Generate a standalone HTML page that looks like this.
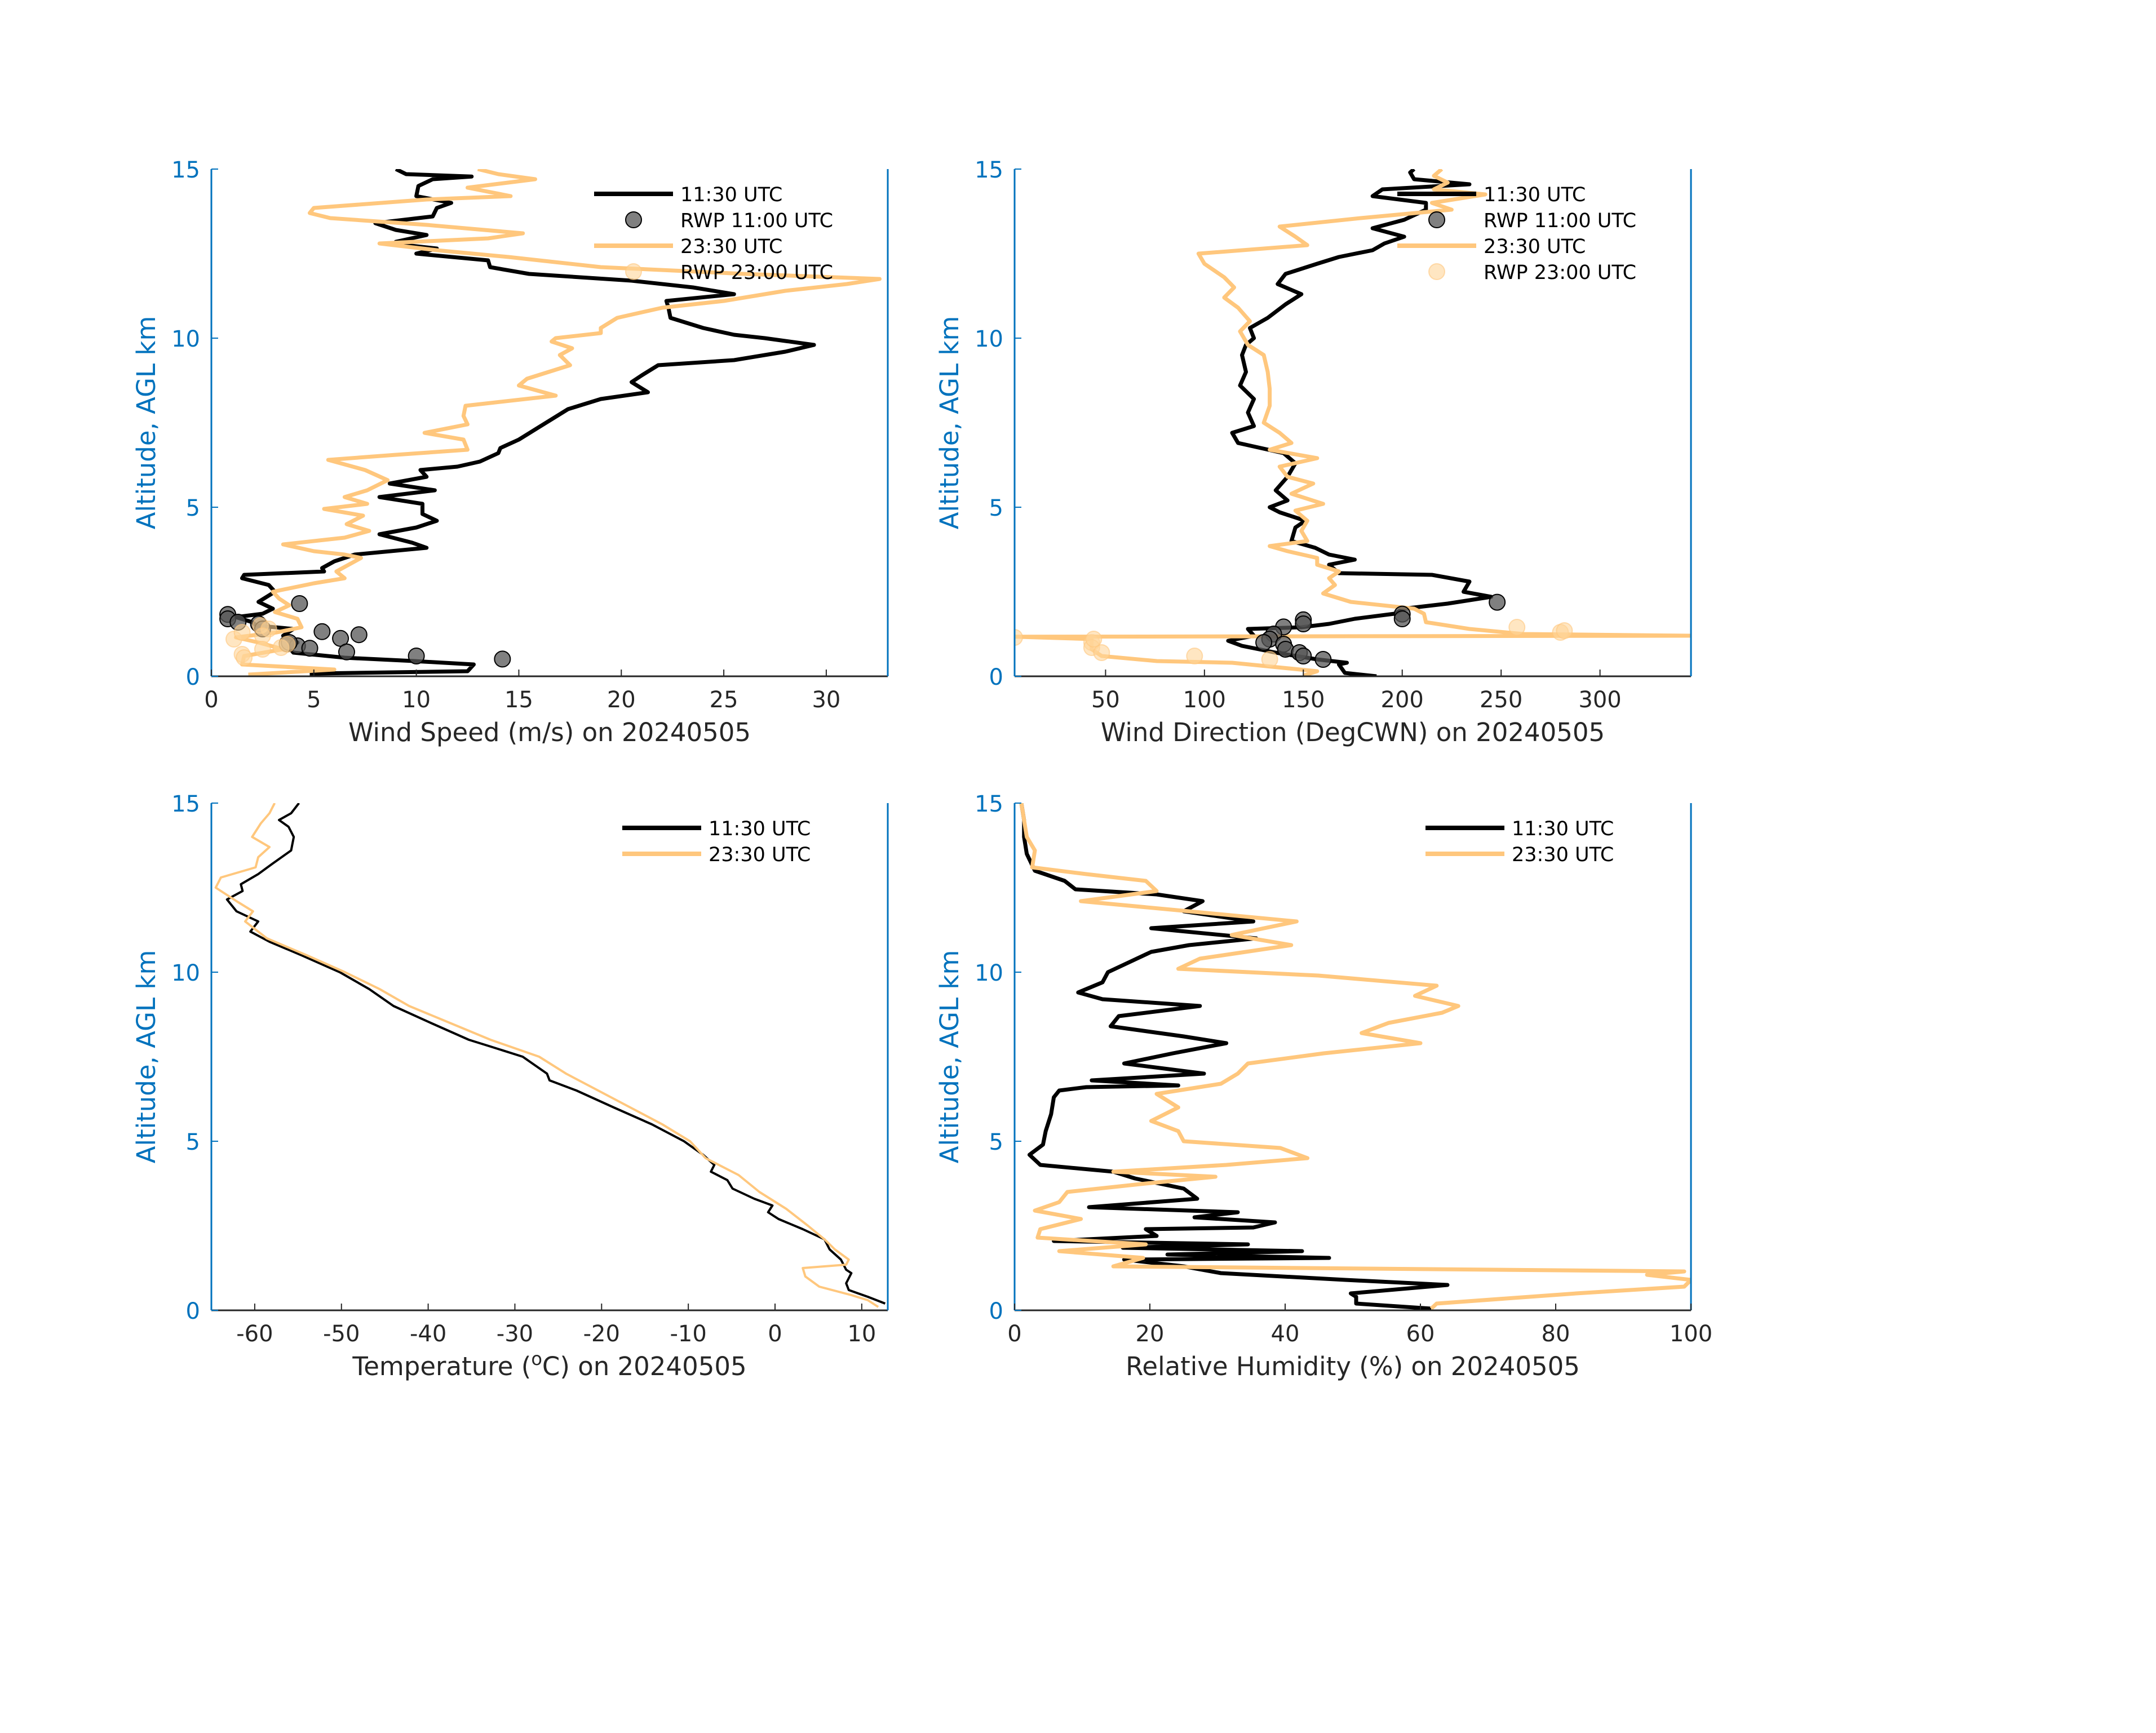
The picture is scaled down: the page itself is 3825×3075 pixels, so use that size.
<!DOCTYPE html>
<html><head><meta charset="utf-8">
<style>
html,body{margin:0;padding:0;background:#fff;}
svg{display:block;font-family:"DejaVu Sans","Liberation Sans",sans-serif;}
</style></head>
<body>
<svg id="fig" width="3825" height="3075" viewBox="0 0 3825 3075" xmlns="http://www.w3.org/2000/svg">
<rect width="3825" height="3075" fill="#fff"/>
</svg>
<script>
// ---------- Wind speed ----------
const wsAlt11 = [0.08,0.15,0.35,0.45,0.55,0.7,0.85,1.0,1.2,1.4,1.5,1.6,1.75,1.85,2.0,2.2,2.5,2.7,2.9,3.0,3.1,3.2,3.4,3.6,3.8,3.95,4.2,4.4,4.6,4.8,5.1,5.3,5.5,5.7,5.9,6.1,6.2,6.35,6.6,6.75,7.0,7.3,7.6,7.9,8.2,8.4,8.7,8.9,9.2,9.35,9.6,9.8,10.0,10.1,10.3,10.6,10.9,11.1,11.3,11.5,11.7,11.9,12.1,12.3,12.5,12.65,12.75,12.85,13.05,13.2,13.4,13.6,13.85,14.0,14.2,14.5,14.7,14.78,14.85,15.0];
const wsVal11 = [4.8,12.5,12.8,9.9,6.5,4.0,3.8,4.2,3.5,4.0,2.2,2.0,1.2,2.5,3.0,2.3,3.1,2.8,1.5,1.6,5.5,5.4,6.0,7.0,10.5,9.8,8.2,10.0,11.0,10.3,10.3,8.2,10.9,8.7,10.5,10.2,12.0,13.1,14.0,14.1,15.0,15.8,16.6,17.4,19.0,21.3,20.5,21.0,21.8,25.5,28.0,29.4,27.0,25.5,24.0,22.4,22.3,22.2,25.5,23.5,20.5,15.5,13.6,13.5,10.0,11.0,9.5,9.0,10.5,9.0,8.0,10.8,11.0,11.7,10.0,10.1,10.8,12.7,9.5,9.0];
const wsAlt23 = [0.05,0.2,0.35,0.6,0.8,1.0,1.15,1.3,1.45,1.7,1.9,2.1,2.3,2.5,2.75,2.9,3.1,3.5,3.6,3.7,3.9,4.1,4.3,4.5,4.75,4.95,5.1,5.3,5.5,5.8,6.1,6.4,6.55,6.7,7.0,7.2,7.45,7.7,8.0,8.3,8.6,8.8,9.2,9.5,9.7,9.9,10.0,10.15,10.3,10.6,10.9,11.1,11.4,11.6,11.75,11.9,12.1,12.4,12.6,12.8,12.95,13.1,13.35,13.55,13.7,13.85,14.1,14.2,14.45,14.7,14.85,15.0];
const wsVal23 = [1.8,6.0,1.5,1.6,3.5,2.3,1.2,3.2,4.4,4.2,3.1,3.8,3.3,3.0,5.0,6.5,6.1,7.3,6.5,5.0,3.5,6.5,7.7,6.6,7.4,5.5,7.6,6.5,7.6,8.6,7.5,5.7,9.0,12.5,12.3,10.4,12.5,12.3,12.4,16.8,15.0,15.4,17.5,17.0,17.6,16.6,16.8,19.0,19.0,19.8,22.0,25.0,28.0,31.0,32.6,26.0,19.0,14.5,11.0,8.2,13.5,15.2,10.5,5.8,4.8,5.0,10.5,14.6,12.5,15.8,14.0,13.0];
const wsRwp11Alt = [1.83,1.7,1.6,1.55,2.15,1.32,1.12,1.23,0.96,0.9,0.83,0.72,0.6,0.51,1.4,1.0];
const wsRwp11Val = [0.8,0.8,1.3,2.3,4.3,5.4,6.3,7.2,3.7,4.2,4.8,6.6,10.0,14.2,2.5,3.8];
const wsRwp23Alt = [1.1,1.3,1.5,1.4,1.2,0.65,0.55,0.85,0.95,0.8];
const wsRwp23Val = [1.1,1.5,2.4,2.8,2.5,1.5,1.6,3.4,3.7,2.5];
const wsTicks = [0,5,10,15,20,25,30];

// ---------- Wind direction ----------
const wdAlt11 = [0,0.1,0.35,0.4,0.5,0.7,0.9,1.05,1.2,1.4,1.45,1.55,1.7,1.85,2.0,2.15,2.35,2.5,2.8,3.0,3.05,3.3,3.45,3.6,3.8,4.0,4.4,4.6,4.85,5.0,5.2,5.5,5.9,6.3,6.6,6.9,7.2,7.4,7.8,8.2,8.6,9.0,9.5,9.8,10.0,10.3,10.6,11.0,11.3,11.6,11.9,12.2,12.4,12.6,12.8,13.0,13.25,13.5,13.8,14.0,14.2,14.4,14.55,14.7,14.9,15.0];
const wdVal11 = [187,171,168,172,157,136,119,112,125,122,149,163,176,196,201,223,245,231,234,215,168,163,176,163,156,144,146,151,138,133,142,136,142,146,140,117,114,125,122,125,118,121,119,121,125,123,132,141,149,137,141,157,168,185,191,201,185,201,212,212,185,190,234,206,204,206];
const wdAlt23 = [0.02,0.15,0.4,0.45,0.6,0.8,1.0,1.1,1.17,1.2,1.25,1.4,1.6,1.85,2.0,2.2,2.45,2.7,2.9,3.1,3.3,3.5,3.7,3.85,4.0,4.3,4.6,4.9,5.1,5.4,5.7,5.9,6.2,6.45,6.7,6.9,7.2,7.5,8.0,8.5,9.0,9.5,9.8,10.2,10.5,10.9,11.2,11.5,11.8,12.2,12.5,12.75,13.0,13.3,13.55,13.8,14.0,14.25,14.4,14.6,14.8,15.0];
const wdVal23 = [150,157,114,76,48,43,43,43,4,346,261,234,212,211,206,174,160,166,163,168,157,157,142,133,152,149,152,146,160,144,155,142,138,157,133,144,138,130,133,133,132,130,122,118,123,117,110,115,110,100,97,152,146,138,179,225,215,242,216,223,216,220];
const wdRwp11Alt = [2.19,1.84,1.7,1.67,1.55,1.46,1.25,1.1,1.0,0.95,0.8,0.7,0.6,0.5];
const wdRwp11Val = [248,200,200,150,150,140,135,133,130,140,141,148,150,160];
const wdRwp23Alt = [1.15,1.0,0.85,0.7,0.6,0.5,1.45,1.3,1.35,1.1];
const wdRwp23Val = [4,43,43,48,95,133,258,280,282,44];
const wdTicks = [50,100,150,200,250,300];

// ---------- Temperature ----------
const tAlt11 = [0.2,0.4,0.6,0.8,1.1,1.2,1.5,1.8,2.1,2.4,2.7,2.9,3.1,3.3,3.6,3.85,4.1,4.3,4.6,5.0,5.5,6.0,6.5,6.8,7.0,7.5,7.8,8.0,8.5,9.0,9.5,10.0,10.5,10.9,11.2,11.5,11.8,12.15,12.4,12.6,12.9,13.2,13.6,14.0,14.3,14.5,14.7,15.0];
const tVal11 = [12.7,10.7,8.5,8.2,8.8,8.2,7.6,6.3,5.7,3.2,0.4,-0.8,-0.3,-2.4,-4.9,-5.5,-7.4,-7.0,-8.3,-10.5,-14.2,-18.6,-22.9,-26.0,-26.3,-29.1,-32.8,-35.3,-39.7,-44.0,-46.8,-50.2,-54.6,-58.3,-60.5,-59.6,-62.1,-63.2,-61.4,-61.6,-59.6,-58.0,-55.8,-55.5,-56.1,-57.2,-55.8,-54.9];
const tAlt23 = [0.1,0.3,0.45,0.7,1.0,1.25,1.35,1.5,1.8,2.1,2.5,3.0,3.5,4.0,4.5,5.0,5.5,6.0,6.5,7.0,7.5,8.0,8.5,9.0,9.5,10.0,10.5,11.0,11.5,11.8,12.1,12.5,12.8,13.1,13.4,13.7,14.0,14.4,14.7,15.0];
const tVal23 = [11.9,10.7,8.8,5.1,3.5,3.2,8.2,8.5,6.9,5.7,3.8,1.3,-1.8,-4.2,-8.0,-9.8,-13.0,-16.7,-20.4,-24.1,-27.2,-32.8,-37.5,-42.2,-45.6,-49.6,-54.0,-58.6,-61.1,-60.2,-62.1,-64.5,-63.9,-59.9,-59.6,-58.3,-60.3,-59.3,-58.3,-57.7];
const tTicks = [-60,-50,-40,-30,-20,-10,0,10];

// ---------- Relative humidity ----------
const rhAlt11 = [0.05,0.2,0.4,0.5,0.75,0.9,1.1,1.3,1.5,1.55,1.65,1.75,1.85,1.95,2.05,2.2,2.4,2.45,2.6,2.75,2.9,3.05,3.3,3.6,3.9,4.1,4.3,4.6,4.9,5.3,5.8,6.3,6.5,6.6,6.65,6.8,7.0,7.3,7.6,7.9,8.1,8.4,8.7,9.0,9.2,9.4,9.7,10.0,10.3,10.6,10.8,11.0,11.3,11.5,11.8,12.1,12.3,12.45,12.7,13.0,13.5,14.0,14.5,15.0];
const rhVal11 = [61.6,50.5,50.5,49.7,64,48.9,30.5,25,16.2,46.5,22.6,42.5,16,34.5,5.8,21,19.4,35.3,38.5,26.6,33,11,27,25,17.8,14.6,3.8,2.2,4.2,4.6,5.4,5.8,6.6,10.6,24.2,11.4,28,16.2,23.4,31.3,25,14.2,15.4,27.4,13,9.4,13,13.8,17,20.2,25.8,35.7,20.2,35.3,25,27.8,21,9,7.4,3,1.8,1.4,1.4,1];
const rhAlt23 = [0.05,0.2,0.5,0.7,0.9,1.05,1.15,1.3,1.55,1.75,1.95,2.15,2.4,2.7,2.95,3.2,3.5,3.75,3.95,4.1,4.3,4.5,4.8,5.0,5.3,5.6,6.0,6.4,6.7,7.0,7.3,7.6,7.9,8.2,8.5,8.8,9.0,9.3,9.6,9.9,10.1,10.4,10.8,11.1,11.5,11.8,12.1,12.4,12.7,12.9,13.1,13.6,14.0,15.0];
const rhVal23 = [61.6,62.4,83,99,100,93.5,99,14.6,19,6.6,19.4,3.4,3.8,9.8,3,6.6,7.8,19.4,29.7,14.6,31.3,43.3,39.3,25,24.2,20.2,24.2,21,30.5,33,34.5,45.7,60,51.3,55.3,63.2,65.6,59.2,62.4,44.9,24.2,27.4,40.9,32.1,41.7,25.8,9.8,21,19.4,10.6,2.6,3,1.8,1];
const rhTicks = [0,20,40,60,80,100];

const yTicks = [0,5,10,15];

const NS = 'http://www.w3.org/2000/svg';
const svg = document.getElementById('fig');
const BLACK = '#000000', ORANGE = '#FFC77D', BLUE = '#0072BD', DARK = '#262626';

function mk(tag, attrs, parent) {
  const e = document.createElementNS(NS, tag);
  for (const k in attrs) e.setAttribute(k, attrs[k]);
  (parent || svg).appendChild(e);
  return e;
}

function panel(p) {
  const g = mk('g', {});
  
  
  const sx = v => p.x0 + (v - p.xmin) / (p.xmax - p.xmin) * p.w;
  const sy = a => p.y0 + p.h - a / 15 * p.h;
  const clipId = 'clip-' + p.name;
  const cp = mk('clipPath', {id: clipId}, g);
  mk('rect', {x: p.x0, y: p.y0, width: p.w, height: p.h}, cp);

  const data = mk('g', {'clip-path': 'url(#' + clipId + ')'}, g);
  
  
  p.lines.forEach(L => {
    const pts = L.alt.map((a, i) => sx(L.val[i]).toFixed(1) + ',' + sy(a).toFixed(1)).join(' ');
    const pl = mk('polyline', {points: pts, fill: 'none', stroke: L.color, 'stroke-width': L.width, 'stroke-linejoin': 'round'}, data);
    
    
  });
  (p.markers || []).forEach(M => {
    M.alt.forEach((a, i) => {
      const c = mk('circle', {cx: sx(M.val[i]), cy: sy(a), r: 14, fill: M.fill, 'fill-opacity': M.op, stroke: M.stroke, 'stroke-opacity': M.sop, 'stroke-width': 2}, data);
      
      
    });
  });

  const ax = mk('g', {}, g);
  
  
  mk('line', {x1: p.x0, y1: p.y0 + p.h, x2: p.x0 + p.w, y2: p.y0 + p.h, stroke: DARK, 'stroke-width': 3}, ax);
  mk('line', {x1: p.x0, y1: p.y0, x2: p.x0, y2: p.y0 + p.h, stroke: BLUE, 'stroke-width': 3}, ax);
  mk('line', {x1: p.x0 + p.w, y1: p.y0, x2: p.x0 + p.w, y2: p.y0 + p.h, stroke: BLUE, 'stroke-width': 3}, ax);
  p.xticks.forEach(t => {
    const x = sx(t);
    mk('line', {x1: x, y1: p.y0 + p.h, x2: x, y2: p.y0 + p.h - 12, stroke: DARK, 'stroke-width': 2}, ax);
    const tx = mk('text', {x: x, y: p.y0 + p.h + 55, 'text-anchor': 'middle', 'font-size': 40, fill: DARK}, ax);
    tx.textContent = String(t);
    
    
  });
  yTicks.forEach(t => {
    const y = sy(t);
    mk('line', {x1: p.x0, y1: y, x2: p.x0 + 12, y2: y, stroke: BLUE, 'stroke-width': 2}, ax);
    const tx = mk('text', {x: p.x0 - 20, y: y + 15, 'text-anchor': 'end', 'font-size': 40, fill: BLUE}, ax);
    tx.textContent = String(t);
    
    
  });
  const yl = mk('text', {x: 0, y: 0, transform: 'translate(' + (p.x0 - 100) + ',' + (p.y0 + p.h / 2) + ') rotate(-90)', 'text-anchor': 'middle', 'font-size': 45, fill: BLUE}, ax);
  yl.textContent = 'Altitude, AGL km';
  
  
  const xl = mk('text', {x: p.x0 + p.w / 2, y: p.y0 + p.h + 115, 'text-anchor': 'middle', 'font-size': 45, fill: DARK}, ax);
  if (p.sup) {
    xl.appendChild(document.createTextNode('Temperature ('));
    const s = mk('tspan', {dy: -18, 'font-size': 32}, xl); s.textContent = 'o';
    const c = mk('tspan', {dy: 18}, xl); c.textContent = 'C) on 20240505';
  } else {
    xl.textContent = p.xlabel;
  }
  
  

  const lg = mk('g', {}, g);
  
  
  p.legend.forEach((e, i) => {
    const y = p.y0 + 44 + i * 46;
    const it = mk('g', {}, lg);
    
    
    if (e.type === 'line') {
      mk('line', {x1: p.x0 + p.lx, y1: y, x2: p.x0 + p.lx + 140, y2: y, stroke: e.color, 'stroke-width': 8}, it);
    } else {
      mk('circle', {cx: p.x0 + p.lx + 70, cy: y, r: 14, fill: e.fill, 'fill-opacity': e.op, stroke: e.stroke, 'stroke-opacity': e.sop, 'stroke-width': 2}, it);
    }
    const t = mk('text', {x: p.x0 + p.lx + 153, y: y + 13, 'font-size': 35, fill: '#000'}, it);
    t.textContent = e.label;
  });
}

const leg4 = [
  {type: 'line', color: BLACK, label: '11:30 UTC'},
  {type: 'dot', fill: '#555', op: 0.75, stroke: '#000', sop: 1, label: 'RWP 11:00 UTC'},
  {type: 'line', color: ORANGE, label: '23:30 UTC'},
  {type: 'dot', fill: '#FFD69A', op: 0.6, stroke: '#FFC77D', sop: 0.6, label: 'RWP 23:00 UTC'}
];
const leg2 = [
  {type: 'line', color: BLACK, label: '11:30 UTC'},
  {type: 'line', color: ORANGE, label: '23:30 UTC'}
];
const mk11 = (alt, val) => ({alt, val, name: 'rwp-1100-point', fill: '#555', op: 0.75, stroke: '#000', sop: 1});
const mk23 = (alt, val) => ({alt, val, name: 'rwp-2300-point', fill: '#FFD69A', op: 0.6, stroke: '#FFC77D', sop: 0.6});

panel({name: 'wind-speed-panel', x0: 375, y0: 300, w: 1200, h: 900, xmin: 0, xmax: 33, xticks: wsTicks,
  xlabel: 'Wind Speed (m/s) on 20240505', lx: 679, legend: leg4,
  lines: [{alt: wsAlt11, val: wsVal11, color: BLACK, width: 7, name: 'wind-speed-1130-line'},
          {alt: wsAlt23, val: wsVal23, color: ORANGE, width: 7, name: 'wind-speed-2330-line'}],
  markers: [mk11(wsRwp11Alt, wsRwp11Val), mk23(wsRwp23Alt, wsRwp23Val)]});

panel({name: 'wind-direction-panel', x0: 1800, y0: 300, w: 1200, h: 900, xmin: 4, xmax: 346, xticks: wdTicks,
  xlabel: 'Wind Direction (DegCWN) on 20240505', lx: 679, legend: leg4,
  lines: [{alt: wdAlt11, val: wdVal11, color: BLACK, width: 7, name: 'wind-direction-1130-line'},
          {alt: wdAlt23, val: wdVal23, color: ORANGE, width: 7, name: 'wind-direction-2330-line'}],
  markers: [mk11(wdRwp11Alt, wdRwp11Val), mk23(wdRwp23Alt, wdRwp23Val)]});

panel({name: 'temperature-panel', x0: 375, y0: 1425, w: 1200, h: 900, xmin: -65, xmax: 13, xticks: tTicks,
  sup: true, lx: 729, legend: leg2,
  lines: [{alt: tAlt11, val: tVal11, color: BLACK, width: 4, name: 'temperature-1130-line'},
          {alt: tAlt23, val: tVal23, color: ORANGE, width: 4, name: 'temperature-2330-line'}]});

panel({name: 'humidity-panel', x0: 1800, y0: 1425, w: 1200, h: 900, xmin: 0, xmax: 100, xticks: rhTicks,
  xlabel: 'Relative Humidity (%) on 20240505', lx: 729, legend: leg2,
  lines: [{alt: rhAlt11, val: rhVal11, color: BLACK, width: 7, name: 'humidity-1130-line'},
          {alt: rhAlt23, val: rhVal23, color: ORANGE, width: 7, name: 'humidity-2330-line'}]});
</script>
</body></html>
